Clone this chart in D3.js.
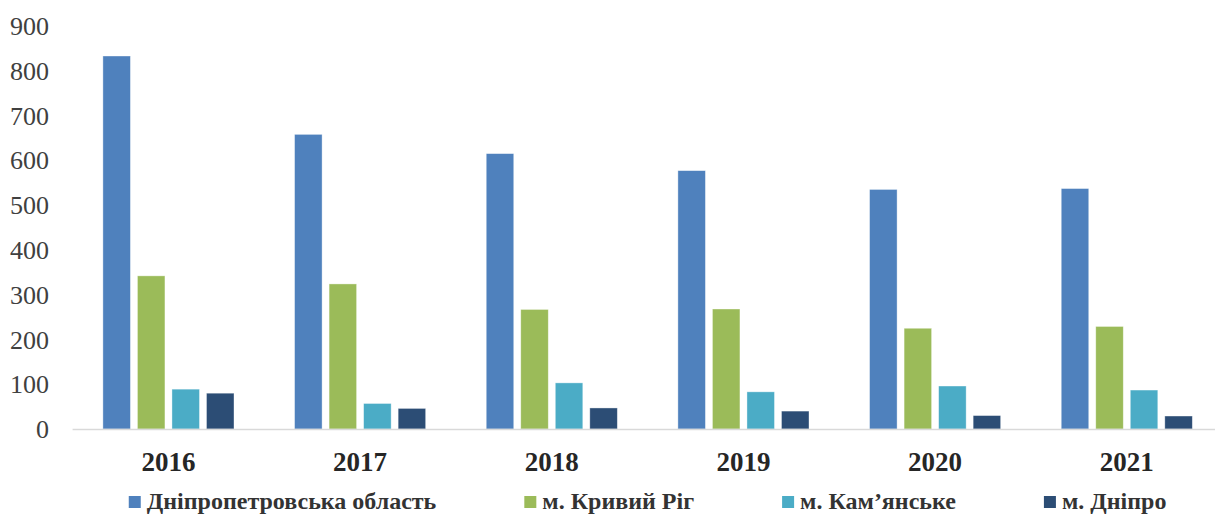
<!DOCTYPE html>
<html><head><meta charset="utf-8">
<script src="https://cdn.jsdelivr.net/npm/d3@7"></script>
<style>body{margin:0;background:#fff}</style>
</head><body>
<svg id="c" width="1215" height="515"></svg>
<script>
const years = ["2016","2017","2018","2019","2020","2021"];
const seriesNames = ["Дніпропетровська область","м. Кривий Ріг","м. Кам’янське","м. Дніпро"];
const oblast = [833, 658, 615, 577, 535, 537];
const kryvyiRih = [342, 324, 267, 268, 225, 229];
const kamianske = [89, 57, 103, 83, 96, 87];
const dnipro = [80, 46, 47, 40, 30, 29];
const yTicks = [0,100,200,300,400,500,600,700,800,900];
const colors = ["#4F81BD","#9BBB59","#4BACC6","#2C4D75"];

(function(){
const seriesValues = [oblast, kryvyiRih, kamianske, dnipro];
const data = years.map((yr,i)=>({year:yr, values: seriesValues.map((s,j)=>({name:seriesNames[j], v:s[i], k:j}))}));

const svg = d3.select("#c");
const pLeft = 72.6, pRight = 1222.6, pTop = 26, pBottom = 429;
const x0 = d3.scaleBand().domain(years).range([pLeft,pRight]).padding(0);
const x1 = d3.scaleBand().domain(d3.range(4)).range([30.3, 161.4]).paddingInner(0.203).paddingOuter(0);
const y = d3.scaleLinear().domain([0,900]).range([pBottom, pTop]);
const color = d3.scaleOrdinal().domain(d3.range(4)).range(colors);
const font = "'Liberation Serif', 'Times New Roman', serif";

// y axis labels
const yAxis = d3.axisLeft(y).tickValues(yTicks).tickSize(0).tickPadding(0).tickFormat(d3.format("d"));
const ya = svg.append("g").attr("transform","translate(49,0)").call(yAxis);
ya.select(".domain").remove();
ya.selectAll("text").attr("font-family",font).attr("font-size","26px").attr("fill","#404040").attr("dy","0.33em");

// bars
const g = svg.append("g").selectAll("g").data(data).join("g")
  .attr("transform", d=>`translate(${x0(d.year)},0)`);
g.selectAll("rect").data(d=>d.values).join("rect")
  .attr("x", d=>x1(d.k)).attr("width", x1.bandwidth())
  .attr("y", d=>y(d.v)).attr("height", d=>y(0)-y(d.v))
  .attr("fill", d=>color(d.k))
  .attr("stroke","#ffffff").attr("stroke-opacity",0.5).attr("stroke-width",0.75);

// x axis line
svg.append("line").attr("x1",pLeft).attr("x2",1215).attr("y1",y(0)+0.5).attr("y2",y(0)+0.5)
  .attr("stroke","#d9d9d9").attr("stroke-width",1.5);

// x labels
const xAxis = d3.axisBottom(x0).tickSize(0).tickPadding(0);
const xa = svg.append("g").attr("transform",`translate(0,${pBottom})`).call(xAxis);
xa.select(".domain").remove();
xa.selectAll("text").attr("font-family",font).attr("font-size","27px").attr("font-weight","bold")
  .attr("fill","#262626").attr("dy","1.55em");

// legend
const lg = svg.append("g");
const items = lg.selectAll("g").data(seriesNames).join("g");
items.append("rect").attr("width",12).attr("height",12).attr("y",-13).attr("fill",(d,i)=>colors[i]);
items.append("text").attr("x",18).attr("y",0).text(d=>d)
  .attr("font-family",font).attr("font-size","24px").attr("font-weight","bold").attr("fill","#333333");
let widths = [];
items.each(function(){ widths.push(18 + this.querySelector("text").getComputedTextLength()); });
const gap = 88;
const total = d3.sum(widths) + gap*(widths.length-1);
let cx = (pLeft+pRight)/2 - total/2;
items.attr("transform",(d,i)=>{ const t = `translate(${cx},509)`; cx += widths[i]+gap; return t; });
})();
</script>
</body></html>
